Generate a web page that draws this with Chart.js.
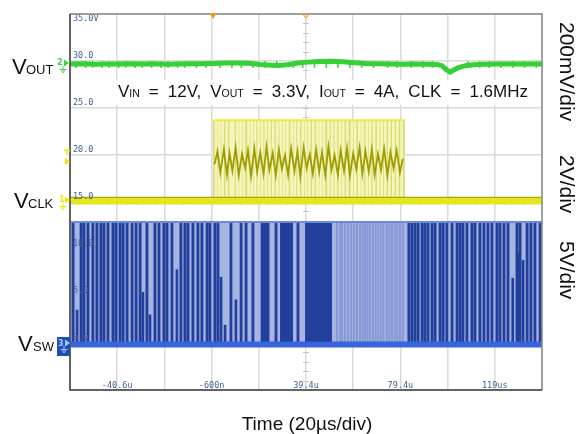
<!DOCTYPE html>
<html lang="en">
<head>
<meta charset="UTF-8">
<title>Switching waveforms</title>
<script src="https://cdn.jsdelivr.net/npm/chart.js"></script>
<style>
  body { margin: 0; background: #fff; }
  canvas { display: block; }
</style>
</head>
<body>
<canvas id="scope" width="576" height="434"></canvas>
<script>
// time axis in us (20us/div), vertical axis in scope screen units (5 per div)
const timeGrid = [-60.6, -40.6, -20.6, -0.6, 19.4, 39.4, 59.4, 79.4, 99.4, 119.4, 139.4];
const timeLabels = ['', '-40.6u', '', '-600n', '', '39.4u', '', '79.4u', '', '119us', ''];
const levelGrid = [-5, 0, 5, 10, 15, 20, 25, 30, 35];
const levelLabels = ['', '0.0', '5.0', '10.0', '15.0', '20.0', '25.0', '30.0', '35.0V'];
const tStart = timeGrid[0];
const tEnd = timeGrid[timeGrid.length - 1];

// VOUT (channel 2, green)  [time, level]
const voutTrace = [[-60.6,29.68],[-55,29.70],[-50,29.66],[-45,29.69],[-40,29.68],[-35,29.71],[-30,29.67],
  [-25,29.70],[-20,29.66],[-15,29.69],[-10,29.72],[-5,29.70],[0,29.74],[5,29.78],[10,29.80],[15,29.76],
  [20,29.62],[25,29.55],[28,29.52],[32,29.62],[36,29.78],[40,29.88],[45,29.95],[50,29.97],[55,29.92],
  [60,29.82],[65,29.74],[70,29.70],[75,29.68],[80,29.66],[85,29.68],[90,29.66],[95,29.64],[97,29.50],
  [99,29.05],[100.5,28.82],[102,29.05],[104,29.30],[107,29.50],[110,29.60],[115,29.66],[120,29.68],
  [125,29.67],[130,29.69],[135,29.68],[139.4,29.68]];
const voutSpikes = [-58,-54,-51,-47,-44,-40,-37,-33,-30,-26,-22,-19,-15,-12,-7,-3,3,8,12,17,22,27,34,38,
  43,48,53,58,63,68,74,78,84,89,93,108,113,117,122,127,132,137];

// VCLK (channel 1, yellow)
const clkLow = 15.1;
const clkHigh = 23.7;
const clkBurst = [0.0, 81.3];
const clkStripes = [1.3,2.7,4.1,5.8,7.5,8.6,10.3,11.7,13.1,15.0,16.4,17.8,19.4,20.8,22.4,23.9,25.5,27.2,
  28.7,30.1,31.5,33.3,34.7,36.3,38.0,39.4,40.8,42.5,44.2,45.6,47.0,48.9,50.5,52.1,53.8,55.2,56.9,58.8,
  60.2,62.0,63.4,65.1,66.5,68.2,70.0,71.5,73.0,74.7,76.4,78.1,79.9];
const clkMid = [[0.6,19.0],[1.9,20.4],[3.1,18.1],[4.6,20.6],[5.9,17.9],[7.0,20.2],[8.2,18.3],[9.6,20.8],
  [10.9,17.8],[12.3,20.1],[13.6,18.6],[14.8,20.5],[16.1,17.7],[17.5,20.7],[18.7,18.2],[20.0,20.3],
  [21.4,18.0],[22.7,20.9],[23.9,18.4],[25.3,20.2],[26.6,17.8],[27.9,20.6],[29.2,18.5],[30.5,20.0],
  [31.8,17.9],[33.1,20.7],[34.5,18.3],[35.8,20.4],[37.0,17.7],[38.4,20.8],[39.7,18.6],[41.0,20.1],
  [42.3,18.0],[43.7,20.6],[45.0,18.2],[46.2,20.3],[47.6,17.8],[48.9,20.9],[50.2,18.4],[51.5,20.0],
  [52.9,17.9],[54.1,20.5],[55.5,18.3],[56.8,20.7],[58.0,17.8],[59.4,20.2],[60.7,18.5],[62.1,20.8],
  [63.3,18.0],[64.6,20.4],[66.0,18.2],[67.3,20.6],[68.5,17.9],[69.9,20.1],[71.2,18.4],[72.5,20.7],
  [73.9,17.8],[75.2,20.3],[76.5,18.6],[77.8,20.5],[79.2,18.1],[80.4,19.6]];

// VSW (channel 3, blue)
const swLow = -0.15;
const swHigh = 12.87;
const swPulses = [-59.3,-55.9,-54.7,-53.0,-50.9,-49.2,-47.5,-46.2,-44.5,-42.4,-41.1,-39.4,-38.1,-36.4,
  -34.3,-32.6,-30.9,-28.0,-24.6,-22.9,-20.8,-19.5,-17.4,-13.6,-11.9,-10.6,-8.5,-6.4,-4.7,-2.5,-1.3,
  0.8,2.1,7.6,11.9,14.0,16.9,20.8,21.6,22.4,23.3,26.7,36.0,
  83.0,84.3,85.6,86.9,88.6,89.8,91.1,92.8,94.1,96.2,97.5,99.1,101.3,103.4,104.7,105.9,107.6,109.7,
  111.0,113.1,114.8,116.5,118.2,120.3,121.6,123.3,125.0,128.8,130.1,133.1,134.7,136.4,138.6];
const swShortPulses = [[-57.6,3.5],[-29.7,5.4],[-26.7,3.0],[-15.3,7.8],[3.4,7.0],[5.1,1.9],[9.7,4.6],
  [127.0,6.9],[129.4,9.6],[131.4,8.8],[139.0,1.7]];
const swFaint = [52.5,53.8,54.7,55.9,57.2,58.5,59.7,61.0,62.3,63.4,64.4,65.4,66.5,67.8,68.9,70.0,71.1,
  72.2,73.6,74.7,75.8,77.0,78.1,79.2,80.4];
const swBlocks = [[28.4, 33.9], [39.0, 50.4]];

const pts = arr => arr.map(([x, y]) => ({ x, y }));
const trace = (data, color, width, order, extra = {}) => ({
  type: 'line', data, borderColor: color, borderWidth: width, pointRadius: 0,
  tension: 0, fill: false, order, ...extra
});
const stripes = (data, color, thickness, order) => ({
  type: 'bar', data, backgroundColor: color, barThickness: thickness,
  grouped: false, borderWidth: 0, order
});

const datasets = [
  // green
  trace(pts(voutTrace), '#36cf36', 5, 1),
  stripes(voutSpikes.map(t => ({ x: t, y: [29.3, 29.95] })), '#4ad04a', 1, 2),
  // yellow
  trace(pts([[tStart, clkLow + 0.4], [tEnd, clkLow + 0.4]]), '#a8a800', 1.2, 3),
  trace(pts([[tStart, clkLow], [tEnd, clkLow]]), '#e6e61e', 7, 4),
  trace(pts(clkMid), '#9d9d08', 1.8, 5),
  trace(pts([[clkBurst[0], clkHigh], [clkBurst[1], clkHigh]]), '#ecec3a', 2, 6),
  stripes(clkStripes.map(t => ({ x: t, y: [clkLow, clkHigh] })), '#f6f6bc', 2, 7),
  trace(pts([[clkBurst[0], clkHigh], [clkBurst[1], clkHigh]]), 'rgba(0,0,0,0)', 0, 8,
    { fill: { value: clkLow }, backgroundColor: '#dcdc76' }),
  // blue
  trace(pts([[tStart, swLow], [tEnd, swLow]]), '#3764dc', 6, 9),
  trace(pts([[tStart, swHigh], [tEnd, swHigh]]), '#6d89dd', 2, 10),
  ...swBlocks.map(b => trace(pts([[b[0], swHigh], [b[1], swHigh]]), 'rgba(0,0,0,0)', 0, 11,
    { fill: 'origin', backgroundColor: '#223f9c' })),
  stripes(swShortPulses.map(([t, v]) => ({ x: t, y: [0, v] })), '#223f9c', 2, 12),
  stripes(swPulses.map(t => ({ x: t, y: [0, swHigh] })), '#223f9c', 2.2, 13),
  stripes(swFaint.map(t => ({ x: t, y: [0, swHigh] })), '#8597d4', 1.2, 14),
  trace(pts([[tStart, swHigh], [tEnd, swHigh]]), 'rgba(0,0,0,0)', 0, 15,
    { fill: 'origin', backgroundColor: '#a6b4e2' })
];

function drawRuns(ctx, x, y, parts) {
  for (const [text, size] of parts) {
    ctx.font = size + 'px "Liberation Sans", Arial, sans-serif';
    ctx.fillText(text, x, y);
    x += ctx.measureText(text).width;
  }
}

function runWidth(ctx, parts) {
  let w = 0;
  for (const [text, size] of parts) {
    ctx.font = size + 'px "Liberation Sans", Arial, sans-serif';
    w += ctx.measureText(text).width;
  }
  return w;
}

function ground(ctx, x, y, color) {
  ctx.strokeStyle = color;
  ctx.lineWidth = 1;
  ctx.beginPath();
  ctx.moveTo(x, y); ctx.lineTo(x, y + 3);
  ctx.moveTo(x - 3.5, y + 3.5); ctx.lineTo(x + 3.5, y + 3.5);
  ctx.moveTo(x - 2, y + 5); ctx.lineTo(x + 2, y + 5);
  ctx.moveTo(x - 0.8, y + 6.5); ctx.lineTo(x + 0.8, y + 6.5);
  ctx.stroke();
}

function arrow(ctx, x, y, color) {
  ctx.fillStyle = color;
  ctx.beginPath();
  ctx.moveTo(x - 4, y - 3.5); ctx.lineTo(x + 1, y); ctx.lineTo(x - 4, y + 3.5);
  ctx.closePath();
  ctx.fill();
}

const scopeDecor = {
  id: 'scopeDecor',
  beforeDatasetsDraw(chart) {
    const { ctx, scales: { x, y } } = chart;
    ctx.save();
    // minor ticks along the centre graticule lines
    ctx.strokeStyle = '#c6c6c6';
    ctx.lineWidth = 1;
    const cx = x.getPixelForValue(timeGrid[5]);
    const cy = y.getPixelForValue(levelGrid[4]);
    ctx.beginPath();
    for (let v = levelGrid[0]; v <= levelGrid[levelGrid.length - 1]; v += 1) {
      const py = Math.round(y.getPixelForValue(v)) + 0.5;
      ctx.moveTo(cx - 3, py); ctx.lineTo(cx + 3, py);
    }
    for (let t = tStart; t <= tEnd + 0.01; t += 4) {
      const px = Math.round(x.getPixelForValue(t)) + 0.5;
      ctx.moveTo(px, cy - 3); ctx.lineTo(px, cy + 3);
    }
    ctx.stroke();
    // backdrop for the operating conditions note
    ctx.fillStyle = '#fff';
    ctx.fillRect(114, 80, 424, 25);
    ctx.restore();
  },
  afterDatasetsDraw(chart) {
    const { ctx, chartArea: a, scales: { x, y } } = chart;
    ctx.save();
    ctx.fillStyle = '#3e5f91';
    ctx.font = '8.5px "DejaVu Sans Mono", monospace';
    ctx.textAlign = 'left';
    levelGrid.forEach((v, i) => {
      if (!levelLabels[i]) return;
      const py = y.getPixelForValue(v);
      ctx.fillText(levelLabels[i], a.left + 3, i === levelGrid.length - 1 ? a.top + 7 : py - 3);
    });
    ctx.textAlign = 'center';
    timeGrid.forEach((t, i) => {
      if (!timeLabels[i]) return;
      ctx.fillText(timeLabels[i], x.getPixelForValue(t), a.bottom - 2);
    });
    ctx.restore();
  },
  afterDraw(chart) {
    const { ctx, chartArea: a, scales: { x, y } } = chart;
    ctx.save();
    // frame
    ctx.lineWidth = 1.5;
    ctx.strokeStyle = '#8a8a8a';
    ctx.strokeRect(a.left, a.top, a.right - a.left, a.bottom - a.top);
    ctx.strokeStyle = '#505050';
    ctx.beginPath();
    ctx.moveTo(a.left, a.top); ctx.lineTo(a.left, a.bottom); ctx.lineTo(a.right, a.bottom);
    ctx.stroke();

    // trigger position markers on the top edge
    const trig = x.getPixelForValue(clkBurst[0]);
    const mid = x.getPixelForValue(timeGrid[5]);
    ctx.fillStyle = '#f39a22';
    ctx.strokeStyle = '#f39a22';
    ctx.beginPath();
    ctx.moveTo(trig - 4, a.top - 1); ctx.lineTo(trig + 4, a.top - 1); ctx.lineTo(trig, a.top + 5);
    ctx.closePath(); ctx.fill();
    ctx.lineWidth = 1;
    ctx.beginPath();
    ctx.moveTo(mid - 3.5, a.top - 0.5); ctx.lineTo(mid + 3.5, a.top - 0.5); ctx.lineTo(mid, a.top + 4.5);
    ctx.closePath(); ctx.stroke();

    // channel markers
    ctx.font = 'bold 8px "DejaVu Sans", sans-serif';
    ctx.textAlign = 'left';
    const gY = y.getPixelForValue(voutTrace[0][1]);
    ctx.fillStyle = '#3fd33f';
    ctx.fillText('2', 57, gY + 1);
    arrow(ctx, 68, gY - 1, '#3fd33f');
    ground(ctx, 63, gY + 2, '#3fd33f');

    const yT = y.getPixelForValue(19.3);
    ctx.fillStyle = '#e8e800';
    ctx.fillRect(64, yT - 12, 6, 1.5);
    ctx.fillRect(66.3, yT - 12, 1.5, 6);
    arrow(ctx, 69, yT, '#e8e800');
    const yY = y.getPixelForValue(clkLow);
    ctx.fillStyle = '#e8e800';
    ctx.fillText('1', 59, yY + 1);
    arrow(ctx, 69, yY - 1, '#e8e800');
    ground(ctx, 63, yY + 2, '#e8e800');

    const bY = y.getPixelForValue(0);
    ctx.fillStyle = '#1d4fb5';
    ctx.fillRect(57, bY - 6, 13, 19);
    ctx.fillStyle = '#a9c4ff';
    ctx.fillText('3', 58, bY + 3);
    arrow(ctx, 69, bY, '#a9c4ff');
    ground(ctx, 64, bY + 3, '#a9c4ff');

    // signal names on the left
    ctx.fillStyle = '#111';
    drawRuns(ctx, 12, 74, [['V', 22]]); drawRuns(ctx, 26, 74, [['OUT', 13]]);
    drawRuns(ctx, 14, 208, [['V', 22]]); drawRuns(ctx, 28, 208, [['CLK', 13]]);
    drawRuns(ctx, 18, 351, [['V', 22]]); drawRuns(ctx, 33, 351, [['SW', 13]]);

    // operating conditions
    const tokens = [
      [['V', 17], ['IN', 10.5]], [['=', 17]], [['12V,', 17]],
      [['V', 17], ['OUT', 10.5]], [['=', 17]], [['3.3V,', 17]],
      [['I', 17], ['OUT', 10.5]], [['=', 17]], [['4A,', 17]],
      [['CLK', 17]], [['=', 17]], [['1.6MHz', 17]]
    ];
    const widths = tokens.map(t => runWidth(ctx, t));
    const total = widths.reduce((s, w) => s + w, 0);
    const gap = (528 - 118 - total) / (tokens.length - 1);
    let tx = 118;
    tokens.forEach((t, i) => { drawRuns(ctx, tx, 97, t); tx += widths[i] + gap; });

    // volts per division, rotated
    ctx.font = '21px "Liberation Sans", Arial, sans-serif';
    [['200mV/div', 22], ['2V/div', 155], ['5V/div', 241]].forEach(([text, top]) => {
      ctx.save();
      ctx.translate(560, top);
      ctx.rotate(Math.PI / 2);
      ctx.fillText(text, 0, 0);
      ctx.restore();
    });

    ctx.font = '19px "Liberation Sans", Arial, sans-serif';
    ctx.textAlign = 'center';
    ctx.fillText('Time (20\u00b5s/div)', 307, 430);
    ctx.restore();
  }
};

const gridStyle = { color: '#dadada', lineWidth: 1.5, drawTicks: false, offset: false };

new Chart(document.getElementById('scope').getContext('2d'), {
  type: 'line',
  data: { datasets },
  options: {
    responsive: false,
    animation: false,
    devicePixelRatio: 1,
    layout: { padding: { left: 70, right: 34, top: 14, bottom: 44 } },
    plugins: { legend: { display: false }, tooltip: { enabled: false } },
    scales: {
      x: {
        type: 'linear', min: tStart, max: tEnd, offset: false,
        afterBuildTicks: s => { s.ticks = timeGrid.map(value => ({ value })); },
        ticks: { display: false },
        grid: gridStyle,
        border: { display: false }
      },
      y: {
        type: 'linear', min: levelGrid[0], max: levelGrid[levelGrid.length - 1],
        afterBuildTicks: s => { s.ticks = levelGrid.map(value => ({ value })); },
        ticks: { display: false },
        grid: gridStyle,
        border: { display: false }
      }
    }
  },
  plugins: [scopeDecor]
});
</script>
</body>
</html>
